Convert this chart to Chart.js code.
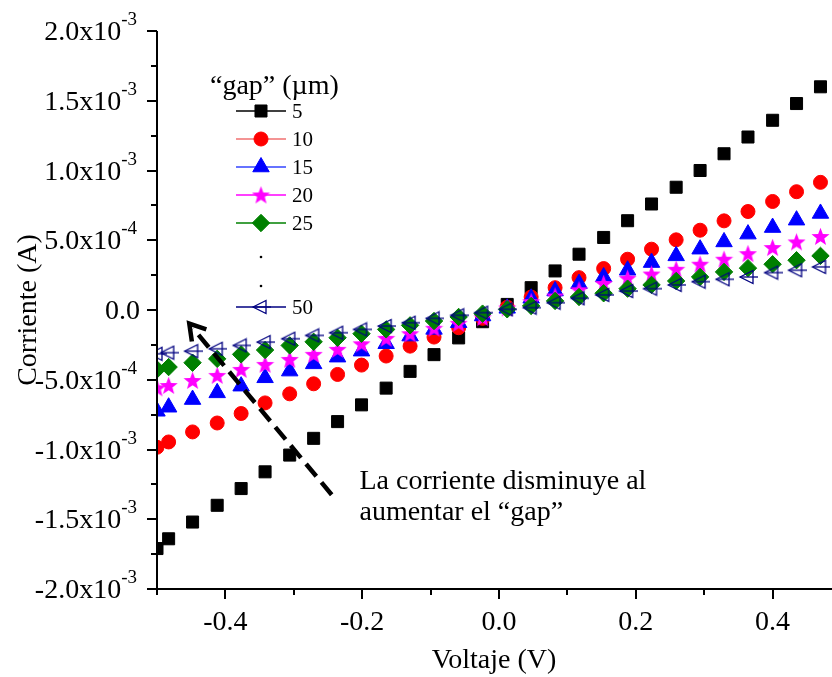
<!DOCTYPE html>
<html>
<head>
<meta charset="utf-8">
<script src="https://cdn.jsdelivr.net/npm/chart.js@4.4.1/dist/chart.umd.min.js"></script>
<style>
  html, body { margin: 0; padding: 0; overflow: hidden; background: #fff; }
  #wrap { width: 860px; height: 677px; }
</style>
</head>
<body>
<div id="wrap"><canvas id="ivChart" width="860" height="677"></canvas></div>
<script>
// Voltage sweep (V)
const voltage = [-0.5, -0.483, -0.448, -0.412, -0.377, -0.342, -0.306, -0.271, -0.236, -0.201,
  -0.165, -0.130, -0.095, -0.059, -0.024, 0.012, 0.047, 0.082, 0.117, 0.153,
  0.188, 0.223, 0.259, 0.294, 0.329, 0.364, 0.400, 0.435, 0.470];

// Current per gap, in mA (converted to A below)
const gap5 = [-1.71, -1.64, -1.52, -1.40, -1.28, -1.16, -1.04, -0.92, -0.80, -0.68,
  -0.56, -0.44, -0.32, -0.20, -0.084, 0.04, 0.16, 0.28, 0.40, 0.52,
  0.64, 0.76, 0.88, 1.00, 1.12, 1.24, 1.36, 1.48, 1.60];
const gap10 = [-0.984, -0.946, -0.874, -0.81, -0.742, -0.666, -0.601, -0.529, -0.462, -0.395,
  -0.33, -0.259, -0.194, -0.127, -0.06, 0.02, 0.093, 0.16, 0.232, 0.297,
  0.364, 0.436, 0.503, 0.572, 0.639, 0.706, 0.778, 0.848, 0.915];
const gap15 = [-0.726, -0.697, -0.642, -0.594, -0.546, -0.486, -0.438, -0.386, -0.338, -0.295,
  -0.242, -0.187, -0.139, -0.091, -0.043, 0.012, 0.084, 0.136, 0.189, 0.237,
  0.285, 0.34, 0.388, 0.436, 0.488, 0.544, 0.591, 0.644, 0.692];
const gap20 = [-0.558, -0.541, -0.505, -0.469, -0.426, -0.39, -0.354, -0.318, -0.282, -0.242,
  -0.203, -0.17, -0.131, -0.095, -0.055, 0.015, 0.06, 0.10, 0.145, 0.19,
  0.228, 0.258, 0.292, 0.328, 0.364, 0.404, 0.448, 0.488, 0.527];
const gap25 = [-0.426, -0.409, -0.378, -0.35, -0.318, -0.287, -0.254, -0.228, -0.199, -0.17,
  -0.139, -0.11, -0.079, -0.05, -0.026, 0.005, 0.029, 0.065, 0.093, 0.12,
  0.153, 0.18, 0.208, 0.237, 0.273, 0.3, 0.328, 0.357, 0.388];
const gap50 = [-0.314, -0.306, -0.295, -0.278, -0.254, -0.23, -0.206, -0.182, -0.163, -0.139,
  -0.115, -0.091, -0.06, -0.038, -0.019, 0.005, 0.017, 0.052, 0.084, 0.108,
  0.136, 0.153, 0.18, 0.203, 0.22, 0.237, 0.268, 0.285, 0.309];

const gapLabels = ['5', '10', '15', '20', '25', '50'];

// Tick labels
const xTickValues = [-0.4, -0.2, 0.0, 0.2, 0.4];
const xTickLabels = ['-0.4', '-0.2', '0.0', '0.2', '0.4'];
const yTickValues = [-2e-3, -1.5e-3, -1e-3, -5e-4, 0, 5e-4, 1e-3, 1.5e-3, 2e-3];
const yTickBase = ['-2.0x10', '-1.5x10', '-1.0x10', '-5.0x10', '0.0', '5.0x10', '1.0x10', '1.5x10', '2.0x10'];
const yTickExp = ['-3', '-3', '-3', '-4', '', '-4', '-3', '-3', '-3'];

const serif = '"Liberation Serif", "Times New Roman", serif';

function makeStar(color, size) {
  const c = document.createElement('canvas');
  c.width = size; c.height = size;
  const g = c.getContext('2d');
  const R = size / 2, r = R * 0.42, cx = size / 2, cy = size / 2 + 0.8;
  g.beginPath();
  for (let i = 0; i < 10; i++) {
    const a = -Math.PI / 2 + i * Math.PI / 5;
    const rr = i % 2 ? r : R;
    g.lineTo(cx + rr * Math.cos(a), cy + rr * Math.sin(a));
  }
  g.closePath();
  g.fillStyle = color;
  g.fill();
  return c;
}

function makeLeftTriangle(color, w, h) {
  const c = document.createElement('canvas');
  c.width = w; c.height = h;
  const g = c.getContext('2d');
  g.strokeStyle = color;
  g.lineWidth = 1.3;
  g.beginPath();
  g.moveTo(2, h / 2); g.lineTo(w - 5, 1.5); g.lineTo(w - 5, h - 1.5); g.closePath();
  g.stroke();
  g.beginPath();
  g.moveTo(2, h / 2); g.lineTo(w, h / 2);
  g.stroke();
  return c;
}

const toPoints = arr => voltage.map((v, i) => ({ x: v, y: arr[i] * 1e-3 }));

const series = [
  { data: gap5, color: '#000000', line: '#000000', style: 'rect', radius: 8.5 },
  { data: gap10, color: '#ff0000', line: '#f07070', style: 'circle', radius: 7 },
  { data: gap15, color: '#0000ff', line: '#3344ff', style: 'triangle', radius: 9.5 },
  { data: gap20, color: '#ff00ff', line: '#ff00ff', style: makeStar('#ff00ff', 19), radius: 9 },
  { data: gap25, color: '#008000', line: '#008000', style: 'rectRot', radius: 8.7 },
  { data: gap50, color: '#000080', line: '#000080', style: makeLeftTriangle('#000080', 20, 16), radius: 8 }
];

const datasets = series.map((s, i) => ({
  label: gapLabels[i],
  data: toPoints(s.data),
  showLine: false,
  pointStyle: s.style,
  pointRadius: s.radius,
  pointBackgroundColor: s.color,
  pointBorderColor: s.color,
  pointBorderWidth: 1,
  order: series.length - i
}));

const decor = {
  id: 'decor',
  afterDraw(chart) {
    const { ctx, chartArea: a, scales: { x, y } } = chart;
    ctx.save();
    ctx.strokeStyle = '#000';
    ctx.fillStyle = '#000';
    ctx.lineWidth = 2;

    // axis lines
    ctx.beginPath();
    ctx.moveTo(a.left, a.top);
    ctx.lineTo(a.left, a.bottom);
    ctx.lineTo(a.right, a.bottom);
    ctx.stroke();

    // tick marks, major and minor
    ctx.beginPath();
    y.ticks.forEach(t => {
      const py = Math.round(y.getPixelForValue(t.value));
      const len = Math.round(t.value / 2.5e-4) % 2 === 0 ? 10 : 6;
      ctx.moveTo(a.left - len, py);
      ctx.lineTo(a.left, py);
    });
    x.ticks.forEach(t => {
      const px = Math.round(x.getPixelForValue(t.value));
      const len = Math.round(t.value * 10) % 2 === 0 ? 10 : 6;
      ctx.moveTo(px, a.bottom);
      ctx.lineTo(px, a.bottom + len);
    });
    ctx.stroke();

    // y tick labels with exponents
    ctx.textBaseline = 'alphabetic';
    ctx.textAlign = 'right';
    const xr = a.left - 20;
    yTickValues.forEach((v, i) => {
      const py = y.getPixelForValue(v);
      if (yTickExp[i]) {
        ctx.font = '19px ' + serif;
        const ew = ctx.measureText(yTickExp[i]).width;
        ctx.fillText(yTickExp[i], xr, py - 6);
        ctx.font = '28px ' + serif;
        ctx.fillText(yTickBase[i], xr - ew, py + 9);
      } else {
        ctx.font = '28px ' + serif;
        ctx.fillText(yTickBase[i], a.left - 17, py + 9);
      }
    });

    // x tick labels
    ctx.textAlign = 'center';
    ctx.font = '28px ' + serif;
    xTickValues.forEach((v, i) => {
      ctx.fillText(xTickLabels[i], x.getPixelForValue(v), a.bottom + 41);
    });

    // axis titles
    ctx.fillText('Voltaje (V)', x.getPixelForValue(0) - 5, a.bottom + 79);
    ctx.save();
    ctx.translate(36, (a.top + a.bottom) / 2);
    ctx.rotate(-Math.PI / 2);
    ctx.font = '28px ' + serif;
    ctx.fillText('Corriente (A)', 0, 0);
    ctx.restore();

    // legend
    ctx.textAlign = 'left';
    ctx.font = '28px ' + serif;
    ctx.fillText('\u201Cgap\u201D (\u00B5m)', 210, 94);
    const rows = [111, 139, 167, 195, 223, 307];
    const dotsY = [257, 286];
    ctx.font = '21px ' + serif;
    rows.forEach((ry, k) => {
      const s = series[k];
      const ds = datasets[k];
      ctx.strokeStyle = s.line;
      ctx.lineWidth = 1.5;
      ctx.beginPath();
      ctx.moveTo(236, ry);
      ctx.lineTo(286, ry);
      ctx.stroke();
      ctx.fillStyle = s.color;
      ctx.strokeStyle = s.color;
      ctx.lineWidth = 1;
      Chart.helpers.drawPoint(ctx, {
        pointStyle: ds.pointStyle, rotation: 0, radius: ds.pointRadius, borderWidth: 1
      }, 261, ry);
      ctx.fillStyle = '#000';
      ctx.fillText(gapLabels[k], 292, ry + 7);
    });
    ctx.fillStyle = '#000';
    dotsY.forEach(dy => {
      ctx.beginPath();
      ctx.arc(261, dy, 1.3, 0, Math.PI * 2);
      ctx.fill();
    });

    // arrow annotation
    const tail = { x: x.getPixelForValue(-0.2446), y: y.getPixelForValue(-1.324e-3) };
    const tip = { x: x.getPixelForValue(-0.4528), y: y.getPixelForValue(-0.098e-3) };
    ctx.strokeStyle = '#000';
    ctx.lineWidth = 4.5;
    ctx.setLineDash([16, 8]);
    ctx.beginPath();
    ctx.moveTo(tail.x, tail.y);
    ctx.lineTo(tip.x + 4, tip.y + 5);
    ctx.stroke();
    ctx.setLineDash([]);
    const ang = Math.atan2(tip.y - tail.y, tip.x - tail.x);
    const arm = 18, spread = 0.55;
    ctx.lineJoin = 'miter';
    ctx.beginPath();
    ctx.moveTo(tip.x - arm * Math.cos(ang - spread), tip.y - arm * Math.sin(ang - spread));
    ctx.lineTo(tip.x, tip.y);
    ctx.lineTo(tip.x - arm * Math.cos(ang + spread), tip.y - arm * Math.sin(ang + spread));
    ctx.stroke();

    ctx.font = '28px ' + serif;
    ctx.fillStyle = '#000';
    ctx.textAlign = 'left';
    const tx = x.getPixelForValue(-0.204);
    const ty = y.getPixelForValue(-1.28e-3);
    ctx.fillText('La corriente disminuye al', tx, ty);
    ctx.fillText('aumentar el \u201Cgap\u201D', tx, ty + 31);

    ctx.restore();
  }
};

new Chart(document.getElementById('ivChart'), {
  type: 'scatter',
  data: { datasets },
  plugins: [decor],
  options: {
    responsive: false,
    devicePixelRatio: 1,
    animation: false,
    events: [],
    layout: { autoPadding: false, padding: { top: 31, right: 19, left: 0, bottom: 0 } },
    plugins: { legend: { display: false }, tooltip: { enabled: false } },
    scales: {
      x: {
        type: 'linear',
        min: -0.5,
        max: 0.5,
        ticks: { display: false, stepSize: 0.1 },
        grid: { display: false },
        border: { display: false },
        afterFit: scale => { scale.height = 88; }
      },
      y: {
        type: 'linear',
        min: -2e-3,
        max: 2e-3,
        ticks: { display: false, stepSize: 2.5e-4 },
        grid: { display: false },
        border: { display: false },
        afterFit: scale => { scale.width = 157; }
      }
    }
  }
});
</script>
</body>
</html>
